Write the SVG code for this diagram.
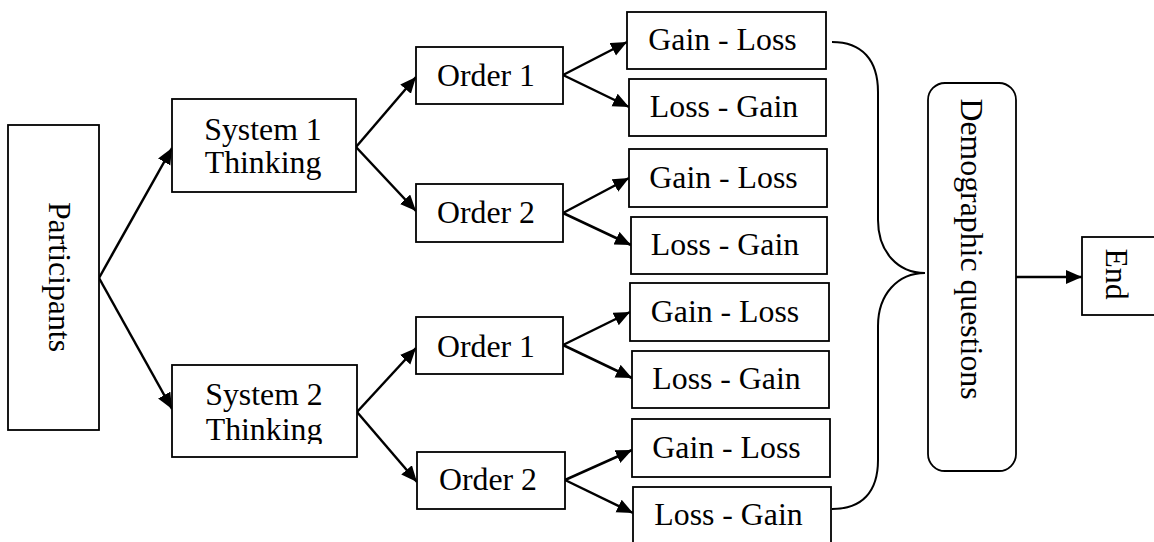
<svg xmlns="http://www.w3.org/2000/svg" width="1154" height="542" viewBox="0 0 1154 542">
<style>
.box{fill:#fff;stroke:#000;stroke-width:1.8}
.t{font-family:'Liberation Serif','Tinos','Times New Roman','DejaVu Serif',serif;font-size:31.8px;fill:#000;text-anchor:middle}
.c{fill:none;stroke:#000;stroke-width:2.5}
.b{fill:none;stroke:#000;stroke-width:2}
</style>
<defs>
<marker id="ah" markerUnits="userSpaceOnUse" markerWidth="18" markerHeight="16" refX="16" refY="7" orient="auto">
<path d="M0,0 L16,7 L0,14 z" fill="#000"/>
</marker>
<clipPath id="clipS2"><rect x="172" y="365" width="185" height="79"/></clipPath>
</defs>
<rect width="1154" height="542" fill="#fff"/>
<g id="connectors">
<path class="c" d="M99,278 L172,148" marker-end="url(#ah)"/>
<path class="c" d="M99,278 L172,409" marker-end="url(#ah)"/>
<path class="c" d="M356,147 L416,77" marker-end="url(#ah)"/>
<path class="c" d="M356,147 L416,211" marker-end="url(#ah)"/>
<path class="c" d="M357,412 L416,348" marker-end="url(#ah)"/>
<path class="c" d="M357,412 L417,482" marker-end="url(#ah)"/>
<path class="c" d="M563,75 L627,42" marker-end="url(#ah)"/>
<path class="c" d="M563,75 L629,107" marker-end="url(#ah)"/>
<path class="c" d="M563,213 L629,178" marker-end="url(#ah)"/>
<path class="c" d="M563,213 L631,245" marker-end="url(#ah)"/>
<path class="c" d="M563,345 L630,312" marker-end="url(#ah)"/>
<path class="c" d="M563,345 L632,378" marker-end="url(#ah)"/>
<path class="c" d="M565,480 L632,450" marker-end="url(#ah)"/>
<path class="c" d="M565,480 L633,513" marker-end="url(#ah)"/>
<path class="c" d="M1016,277 L1082,277" marker-end="url(#ah)"/>
<path id="brace" class="b" d="M832,42 C862,42 878,60 878,92 L878,220 C878,252 898,273 925,273 C898,273 878,294 878,326 L878,460 C878,492 862,509 832,509"/>
</g>
<g id="participants">
<rect class="box" x="8" y="125" width="91" height="305"/>
<text class="t" transform="translate(49,277) rotate(90)">Participants</text>
</g>
<g id="system1">
<rect class="box" x="172" y="99" width="184" height="93"/>
<text class="t" x="263" y="140">System 1</text>
<text class="t" x="263" y="173">Thinking</text>
</g>
<g id="system2">
<rect class="box" x="172" y="365" width="185" height="92"/>
<text class="t" x="264" y="405">System 2</text>
<text class="t" x="264" y="440" clip-path="url(#clipS2)">Thinking</text>
</g>
<g id="order1a">
<rect class="box" x="416" y="47" width="147" height="57"/>
<text class="t" x="486" y="86">Order 1</text>
</g>
<g id="order2a">
<rect class="box" x="416" y="184" width="147" height="58"/>
<text class="t" x="486" y="223">Order 2</text>
</g>
<g id="order1b">
<rect class="box" x="416" y="317" width="147" height="57"/>
<text class="t" x="486" y="357">Order 1</text>
</g>
<g id="order2b">
<rect class="box" x="417" y="452" width="148" height="57"/>
<text class="t" x="488" y="490">Order 2</text>
</g>
<g id="gl1">
<rect class="box" x="627" y="12" width="199" height="57"/>
<text class="t" x="722.5" y="50">Gain - Loss</text>
</g>
<g id="lg1">
<rect class="box" x="629" y="79" width="197" height="57"/>
<text class="t" x="724" y="117">Loss - Gain</text>
</g>
<g id="gl2">
<rect class="box" x="629" y="149" width="198" height="58"/>
<text class="t" x="723.5" y="188">Gain - Loss</text>
</g>
<g id="lg2">
<rect class="box" x="631" y="217" width="196" height="57"/>
<text class="t" x="725" y="255">Loss - Gain</text>
</g>
<g id="gl3">
<rect class="box" x="630" y="283" width="199" height="58"/>
<text class="t" x="725" y="322">Gain - Loss</text>
</g>
<g id="lg3">
<rect class="box" x="632" y="351" width="197" height="57"/>
<text class="t" x="726.5" y="389">Loss - Gain</text>
</g>
<g id="gl4">
<rect class="box" x="632" y="419" width="198" height="58"/>
<text class="t" x="726.5" y="458">Gain - Loss</text>
</g>
<g id="lg4">
<rect class="box" x="633" y="487" width="198" height="60"/>
<text class="t" x="728.5" y="525">Loss - Gain</text>
</g>
<g id="demographic">
<rect class="box" x="928" y="83" width="88" height="388" rx="17" ry="17"/>
<text class="t" transform="translate(961,249) rotate(90)">Demographic questions</text>
</g>
<g id="end">
<rect class="box" x="1082" y="237" width="80" height="78"/>
<text class="t" transform="translate(1106,274) rotate(90)">End</text>
</g>
</svg>
